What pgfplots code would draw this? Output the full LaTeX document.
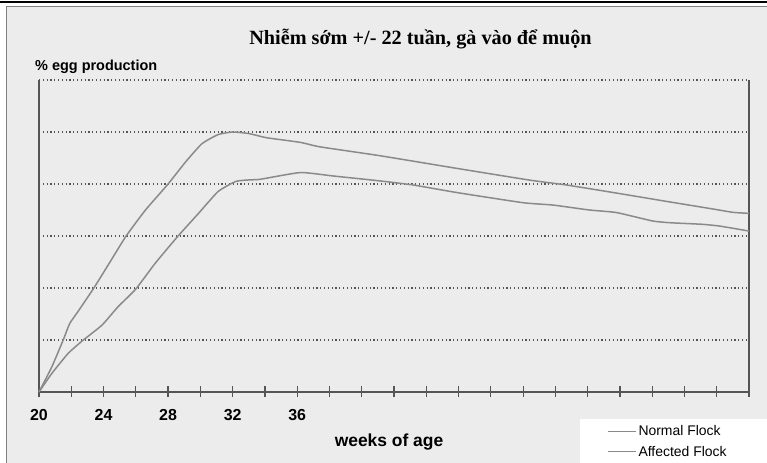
\documentclass[border=0pt]{standalone}
\usepackage{fontspec}
\setmainfont{Liberation Serif}
\newfontfamily\arial{Liberation Sans}
\usepackage{pgfplots}
\pgfplotsset{compat=1.18}
\definecolor{bg}{HTML}{ECECEC}
\definecolor{curve}{HTML}{8A8A8A}
\definecolor{axisc}{HTML}{555555}
\begin{document}
\begin{tikzpicture}[x=1bp,y=1bp]
\useasboundingbox (0,0) rectangle (767,463);
\fill[white] (0,0) rectangle (767,463);
\fill[bg] (6,0) rectangle (767,456);
\draw[gray, line width=1bp] (6,0) -- (6,456) -- (767,456);
\draw[black, line width=1.5bp] (0,461) -- (767,461);
\fill[white] (580,0) rectangle (767,44);
\node[anchor=base, font=\bfseries\fontsize{20.3}{24}\selectfont, inner sep=0pt] at (420.5,418) {Nhiễm sớm +/- 22 tuần, gà vào để muộn};
\begin{axis}[
  at={(39bp,71bp)}, anchor=south west,
  scale only axis, width=710bp, height=312bp,
  xmin=20, xmax=64, ymin=0, ymax=120,
  axis x line=bottom, axis y line=left,
  axis line style={-, axisc, line width=1.4bp},
  xtick={20,22,...,64},
  xticklabels={20,,24,,28,,32,,36},
  major tick length=11bp, tick align=center,
  xtick style={axisc, line width=1.2bp},
  ytick={20,40,...,120}, yticklabels={}, ytick style={draw=none},
  ymajorgrids, grid style={axisc, line width=1.1bp, dash pattern=on 1.2bp off 2.6bp},
  xticklabel style={font=\arial\bfseries\fontsize{16}{16}\selectfont, yshift=-8bp},
  xlabel={weeks of age},
  xlabel style={font=\arial\bfseries\fontsize{17.5}{18}\selectfont, at={(axis description cs:0.493,-0.160)}, anchor=center},
  ylabel={\% egg production},
  ylabel style={font=\arial\bfseries\fontsize{14.5}{15}\selectfont, at={(axis description cs:-0.0056,1.0298)}, anchor=base west, rotate=-90, inner sep=0pt},
  clip=false,
  legend style={at={(axis description cs:0.8,-0.1)}, anchor=north west, draw=none, fill=none, font=\arial\fontsize{14}{14}\selectfont, inner sep=0pt, row sep=5bp},
  legend cell align=left,
  legend image code/.code={\draw[#1, line width=1.3bp] (0bp,0bp) -- (28bp,0bp);},
]
\draw[axisc, line width=1.4bp] (axis cs:64,0) -- (axis cs:64,120);
\addplot[curve, line width=1.5bp, smooth, tension=0.3] coordinates {
(20,0) (20.79,9.6) (21.5,20) (21.9,26.3) (22.4,30.8) (23.4,40) (24.5,51) (25.4,60) (26.6,70) (28,80) (29.1,88.6) (30.1,95.5) (31.1,99) (32,100) (33,99.4) (34.1,97.8) (36.2,96) (37.4,94.3) (41.1,90.9) (45.9,86) (50.4,81.5) (52.7,79.6) (55.6,76.7) (58.7,73.5) (61.75,70.4) (63,69.1) (64,68.7)
};
\addlegendentry{Normal Flock}
\addplot[curve, line width=1.5bp, smooth, tension=0.3] coordinates {
(20,0) (20.79,7.1) (21.8,14.8) (22.65,19.5) (23.9,25.7) (24.9,32.8) (26,39.6) (27.2,49.5) (28.55,59.5) (29.9,68.8) (31.1,77.1) (32.2,81) (33.1,81.6) (33.7,81.8) (36.2,84.4) (38.2,83.1) (41.1,81.2) (43.2,79.6) (45.9,76.7) (50,72.8) (51.85,71.9) (54.1,70) (55.8,69) (58,65.8) (59.1,65.1) (61.1,64.5) (62.2,63.8) (64,61.9)
};
\addlegendentry{Affected Flock}
\end{axis}
\end{tikzpicture}
\end{document}
